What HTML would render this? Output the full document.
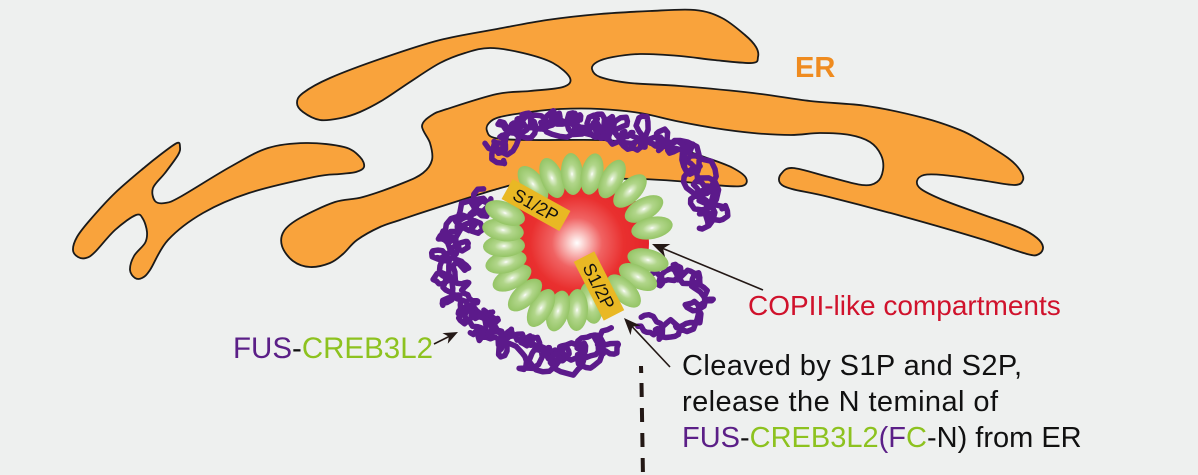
<!DOCTYPE html>
<html><head><meta charset="utf-8"><style>
html,body{margin:0;padding:0;background:#eef0ef;}
svg{display:block}
text{font-family:"Liberation Sans",Arial,sans-serif;}
</style></head><body>
<svg id="s" width="1198" height="475" viewBox="0 0 1198 475" xmlns="http://www.w3.org/2000/svg">
<defs>
<radialGradient id="red" cx="50%" cy="50%" r="50%">
<stop offset="0" stop-color="#ffffff"/>
<stop offset="0.1" stop-color="#fbd2d0"/>
<stop offset="0.35" stop-color="#f06262"/>
<stop offset="0.65" stop-color="#e9302f"/>
<stop offset="1" stop-color="#e5242a"/>
</radialGradient>
<radialGradient id="bead" cx="50%" cy="50%" r="50%">
<stop offset="0" stop-color="#ffffff"/>
<stop offset="0.12" stop-color="#e0efd0"/>
<stop offset="0.45" stop-color="#b1d68a"/>
<stop offset="1" stop-color="#94c465"/>
</radialGradient>
</defs>
<rect width="1198" height="475" fill="#eef0ef"/>
<g fill="#f9a33c" stroke="#1a1a1a" stroke-width="1.8" stroke-linejoin="round">
<polygon class="sm" points="177,143 160,155 145,167 115,193 90,220 77,237 73,250 78,257 86,258 95,252 115,230 136,215 143,219 147,232 145,243 134,256 130,270 135,278 142,278 150,270 168,240 203,213 249,193 314,177 340,174 356,172 364,167 360,157 344,147 306,143 268,148 230,167 180,197 165,203 155,201 153,188 165,173 178,155 180,147"/>
<polygon class="sm" points="297,103 303,93 330,78 383,58 440,40 497,29 547,20 600,14 650,11 695,10 722,18 745,35 756,47 758,57 752,63 714,60 680,56 640,54 613,57 597,62 592,69 600,77 630,83 680,86 753,93 810,101 867,106 924,118 960,130 981,141 1008,158 1020,170 1023,180 1014,185 980,180 943,175 924,175 917,181 921,189 943,200 981,214 1020,228 1037,238 1043,247 1039,254 1027,254 981,239 905,217 829,197 792,189 780,183 781,174 793,168 829,177 862,185 877,182 883,170 881,155 870,142 850,135 820,133 791,135 753,133 714,128 676,121 640,113 600,109 560,109 530,112 500,117 489,123 487,131 495,138 530,140 600,140 640,143 676,148 710,159 733,168 746,178 742,186 714,185 676,181 640,179 600,179 560,181 520,184 497,189 430,210 400,220 380,227 357,240 343,254 330,263 310,267 293,261 282,246 284,231 300,218 335,202 363,197 403,183 423,173 432,160 430,143 422,126 432,115 447,109 497,94 530,91 563,87 570,78 553,63 523,53 490,48 465,53 440,63 410,82 383,100 360,112 341,118 320,120 303,112"/>
</g>
<g id="purple" fill="none" stroke="#5c1a8b" stroke-width="5.5" stroke-linecap="round" stroke-linejoin="round"></g>
<circle cx="577" cy="243" r="72" fill="url(#red)"/>
<g fill="url(#bead)">
<ellipse cx="533" cy="184" rx="21" ry="11" transform="rotate(-127 533 184)"/>
<ellipse cx="552" cy="178" rx="21" ry="11" transform="rotate(-111 552 178)"/>
<ellipse cx="572" cy="174" rx="21" ry="11" transform="rotate(-94 572 174)"/>
<ellipse cx="592" cy="174" rx="21" ry="11" transform="rotate(-78 592 174)"/>
<ellipse cx="612" cy="179" rx="21" ry="11" transform="rotate(-62 612 179)"/>
<ellipse cx="630" cy="191" rx="21" ry="11" transform="rotate(-45 630 191)"/>
<ellipse cx="644" cy="209" rx="21" ry="11" transform="rotate(-28 644 209)"/>
<ellipse cx="652" cy="228" rx="21" ry="11" transform="rotate(-12 652 228)"/>
<ellipse cx="648" cy="260" rx="21" ry="11" transform="rotate(14 648 260)"/>
<ellipse cx="638" cy="277" rx="21" ry="11" transform="rotate(29 638 277)"/>
<ellipse cx="624" cy="291" rx="21" ry="11" transform="rotate(44 624 291)"/>
<ellipse cx="591" cy="303" rx="21" ry="11" transform="rotate(79 591 303)"/>
<ellipse cx="577" cy="310" rx="21" ry="11" transform="rotate(92 577 310)"/>
<ellipse cx="558" cy="311" rx="21" ry="11" transform="rotate(106 558 311)"/>
<ellipse cx="541" cy="308" rx="21" ry="11" transform="rotate(120 541 308)"/>
<ellipse cx="525" cy="295" rx="21" ry="11" transform="rotate(137 525 295)"/>
<ellipse cx="512" cy="278" rx="21" ry="11" transform="rotate(153 512 278)"/>
<ellipse cx="506" cy="262" rx="21" ry="11" transform="rotate(166 506 262)"/>
<ellipse cx="504" cy="246" rx="21" ry="11" transform="rotate(178 504 246)"/>
<ellipse cx="503" cy="230" rx="21" ry="11" transform="rotate(-170 503 230)"/>
<ellipse cx="505" cy="213" rx="21" ry="11" transform="rotate(-158 505 213)"/>
</g>
<g transform="translate(536,205) rotate(29)">
<rect x="-33" y="-11.5" width="66" height="23" fill="#e9b824"/>
<text x="0" y="6.5" font-size="18" text-anchor="middle" fill="#111">S1/2P</text>
</g>
<g transform="translate(599,286) rotate(63)">
<rect x="-33" y="-11.5" width="66" height="23" fill="#e9b824"/>
<text x="0" y="6.5" font-size="18" text-anchor="middle" fill="#111">S1/2P</text>
</g>
<g stroke="#231815" stroke-width="1.6" fill="none">
<line x1="763" y1="290" x2="663" y2="248.5"/>
<line x1="670" y1="367" x2="632" y2="326.5"/>
<line x1="434" y1="344" x2="449" y2="336.5"/>
</g>
<g fill="#231815">
<polygon points="0,0 -17,-7 -12,0 -17,7" transform="translate(652,244) rotate(202.5)"/>
<polygon points="0,0 -17,-7 -12,0 -17,7" transform="translate(624,318) rotate(226.8)"/>
<polygon points="0,0 -17,-7 -12,0 -17,7" transform="translate(458,332) rotate(-26.6) scale(0.85)"/>
</g>
<g stroke="#231815" stroke-width="4" fill="none">
<path d="M641,366 L641.2,373"/>
<path d="M641.5,383 L643,478" stroke-dasharray="14 11"/>
</g>
<text x="795" y="77" font-size="29" font-weight="bold" fill="#ef8b1f">ER</text>
<text x="748" y="315" font-size="28" fill="#d0122c">COPII-like compartments</text>
<text x="682" y="375" font-size="29" fill="#111" textLength="340" lengthAdjust="spacing">Cleaved by S1P and S2P,</text>
<text x="682" y="411" font-size="29" fill="#111" textLength="316" lengthAdjust="spacing">release the N teminal of</text>
<text x="682" y="447" font-size="29" fill="#111"><tspan fill="#5b1f87">FUS</tspan>-<tspan fill="#8dc21f">CREB3L2</tspan><tspan fill="#5b1f87">(F</tspan><tspan fill="#8dc21f">C</tspan>-N) from ER</text>
<text x="233" y="358" font-size="29.5"><tspan fill="#5b1f87">FUS</tspan><tspan fill="#111">-</tspan><tspan fill="#8dc21f">CREB3L2</tspan></text>
</svg>
<script>
(function(){
var NS='http://www.w3.org/2000/svg';
function R(seed){var s=seed>>>0;return function(){s=(Math.imul(s,1664525)+1013904223)>>>0;return s/4294967296;};}
function f(n){return n.toFixed(1);}
function smooth(p,closed){var k=6,n=p.length;function g(i){if(closed)return p[(i%n+n)%n];return p[Math.max(0,Math.min(n-1,i))];}
var d='M'+f(p[0][0])+','+f(p[0][1]);var last=closed?n:n-1;
for(var i=0;i<last;i++){var p0=g(i-1),p1=g(i),p2=g(i+1),p3=g(i+2);
d+='C'+f(p1[0]+(p2[0]-p0[0])/k)+','+f(p1[1]+(p2[1]-p0[1])/k)+' '+f(p2[0]-(p3[0]-p1[0])/k)+','+f(p2[1]-(p3[1]-p1[1])/k)+' '+f(p2[0])+','+f(p2[1]);}
return d+(closed?'Z':'');}
var polys=document.querySelectorAll('polygon.sm');
for(var i=0;i<polys.length;i++){var pg=polys[i];var pts=pg.getAttribute('points').trim().split(/\s+/).map(function(s){return s.split(',').map(Number);});
var path=document.createElementNS(NS,'path');path.setAttribute('d',smooth(pts,true));pg.parentNode.replaceChild(path,pg);}
function sampler(sp){var seg=[],L=0;for(var i=0;i<sp.length-1;i++){var a=sp[i],b=sp[i+1],l=Math.hypot(b[0]-a[0],b[1]-a[1]);seg.push({a:a,b:b,l:l,s:L});L+=l;}
return {L:L,at:function(t){for(var j=0;j<seg.length;j++){var s=seg[j];if(t<=s.s+s.l||j==seg.length-1){var u=Math.max(0,Math.min(1,(t-s.s)/s.l));var tx=(s.b[0]-s.a[0])/s.l,ty=(s.b[1]-s.a[1])/s.l;return [s.a[0]+(s.b[0]-s.a[0])*u,s.a[1]+(s.b[1]-s.a[1])*u,-ty,tx];}}}};}
var G=document.getElementById('purple');
function coil(sp,w,seed,passes,rho){var S=sampler(sp),r=R(seed);
for(var p=0;p<passes;p++){var pts=[],t=r()*5,th=r()*6.28,d=(r()*2-1)*w,rad=rho*(0.7+0.5*r()),dir=r()<0.5?1:-1;
while(t<S.L){var a=S.at(t);d+=(r()*2-1)*3.2;if(d>w)d=w-r()*3;if(d<-w)d=-w+r()*3;
rad+=(r()*2-1)*1.0;if(rad<rho*0.4)rad=rho*0.4;if(rad>rho*1.5)rad=rho*1.5;
if(r()<0.02)dir=-dir;th+=dir*(0.38+r()*0.34);t+=0.8+r()*1.9;
pts.push(f(a[0]+a[2]*d+rad*Math.cos(th))+','+f(a[1]+a[3]*d+rad*Math.sin(th)));}
var e=document.createElementNS(NS,'path');e.setAttribute('d','M'+pts.join('L'));G.appendChild(e);}}
coil([[497,150],[512,135],[545,129],[580,128],[615,131],[648,138],[675,151],[697,171],[710,196],[714,222]],11,11,3,8);
coil([[492,205],[472,218],[456,240],[450,268],[456,295],[470,315],[484,326]],13,23,3,8);
coil([[478,322],[500,340],[530,352],[562,356],[592,350],[614,340]],12,37,3,8);
coil([[656,270],[682,276],[700,292],[698,312],[682,325],[660,329],[646,320]],9,51,2,6);
coil([[500,165],[496,150]],4,61,1,5);
})();
</script>
</body></html>
